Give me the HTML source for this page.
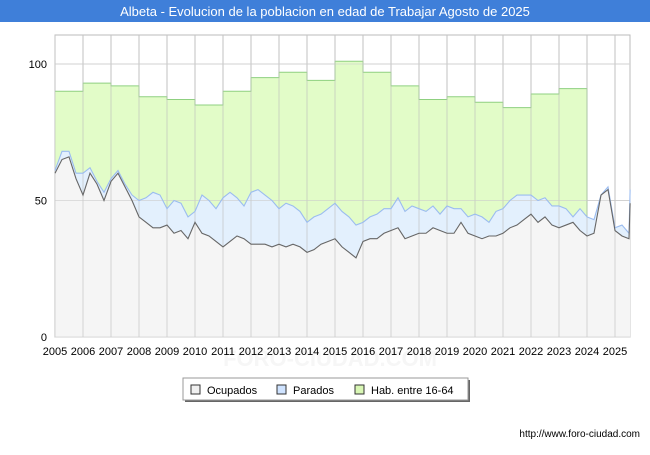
<!DOCTYPE html>
<html><head><meta charset="utf-8"><style>
body{margin:0;width:650px;height:450px;background:#fff;font-family:"Liberation Sans",sans-serif;overflow:hidden}
</style></head><body>
<svg width="650" height="450" xmlns="http://www.w3.org/2000/svg">
<rect x="0" y="0" width="650" height="450" fill="#fff"/>
<rect x="0" y="0" width="650" height="22" fill="#3f7fd9"/>
<text x="325" y="16" text-anchor="middle" fill="#fff" font-size="13">Albeta - Evolucion de la poblacion en edad de Trabajar Agosto de 2025</text>
<text x="330" y="366" text-anchor="middle" fill="#f6f6f6" font-size="22" font-weight="bold">FORO-CIUDAD.COM</text>
<rect x="55" y="35" width="575" height="302" fill="#fff" stroke="#bbb"/>
<g id="grid"></g>
<g id="series"></g>
<g id="axes"></g>
<g>
<rect x="185" y="380" width="285" height="22" fill="#666"/>
<rect x="183" y="378" width="285" height="22" fill="#fff" stroke="#999"/>
<rect x="191" y="385" width="9" height="9" fill="#f0f0f0" stroke="#333"/>
<text x="207" y="394" font-size="11" fill="#000">Ocupados</text>
<rect x="277" y="385" width="9" height="9" fill="#cfe3ff" stroke="#333"/>
<text x="293" y="394" font-size="11" fill="#000">Parados</text>
<rect x="355" y="385" width="9" height="9" fill="#d9f7b5" stroke="#333"/>
<text x="371" y="394" font-size="11" fill="#000">Hab. entre 16-64</text>
</g>
<text x="640" y="437" text-anchor="end" font-size="10" fill="#000">http://www.foro-ciudad.com</text>
</svg>
<script>
const years=[2005,2006,2007,2008,2009,2010,2011,2012,2013,2014,2015,2016,2017,2018,2019,2020,2021,2022,2023,2024,2025];
const habYears=[2005,2006,2007,2008,2009,2010,2011,2012,2013,2014,2015,2016,2017,2018,2019,2020,2021,2022,2023];
const hab=[90,93,92,88,87,85,90,95,97,94,101,97,92,87,88,86,84,89,91];
const ocupados=[60,65,66,58, 52,60,56,50, 57,60,55,50, 44,42,40,40, 41,38,39,36, 42,38,37,35, 33,35,37,36, 34,34,34,33, 34,33,34,33, 31,32,34,35, 36,33,31,29, 35,36,36,38, 39,40,36,37, 38,38,40,39, 38,38,42,38, 37,36,37,37, 38,40,41,43, 45,42,44,41, 40,41,42,39, 37,38,52,54, 39,37,36,49];
const total=[61,68,68,60, 60,62,57,53, 58,61,56,52, 50,51,53,52, 47,50,49,44, 46,52,50,47, 51,53,51,48, 53,54,52,50, 47,49,48,46, 42,44,45,47, 49,46,44,41, 42,44,45,47, 47,51,46,48, 47,46,48,45, 48,47,47,44, 45,44,42,46, 47,50,52,52, 52,50,51,48, 48,47,44,47, 44,43,52,55, 40,41,38,54];
const yTicks=[0,50,100];
const NS="http://www.w3.org/2000/svg";
const X=t=>55+(t-2005)*28;
const Y=v=>337-v*2.73;
const tOf=i=>i<ocupados.length-1?2005+i/4:2025.54;
function mk(tag,attrs,parent){const e=document.createElementNS(NS,tag);for(const k in attrs)e.setAttribute(k,attrs[k]);document.getElementById(parent).appendChild(e);return e;}
yTicks.forEach(v=>{const l=mk('line',{x1:55,x2:630,y1:Y(v),y2:Y(v),stroke:'#ddd'},'grid');


const t=mk('text',{x:47,y:Y(v)+4,'text-anchor':'end','font-size':11,fill:'#000'},'axes');t.textContent=v;

});
years.forEach(yr=>{const l=mk('line',{x1:X(yr),x2:X(yr),y1:35,y2:337,stroke:'#ccc'},'grid');


const t=mk('text',{x:X(yr),y:355,'text-anchor':'middle','font-size':11,fill:'#000'},'axes');t.textContent=yr;

});
let hp=[];habYears.forEach((yr,i)=>{hp.push([X(yr),Y(hab[i])]);hp.push([X(yr+1),Y(hab[i])]);});
const endIdx=(2024-2005)*4;
hp.push([X(2024),Y(total[endIdx])]);
let habPoly=hp.slice();
for(let i=endIdx;i>=0;i--)habPoly.push([X(tOf(i)),Y(total[i])]);
const ha=mk('polygon',{points:habPoly.map(p=>p.join(',')).join(' '),fill:'#e2fcc8',stroke:'none'},'series');


const hl=mk('polyline',{points:hp.map(p=>p.join(',')).join(' '),fill:'none',stroke:'#8fd080','stroke-width':1},'series');


let tp=total.map((v,i)=>[X(tOf(i)),Y(v)]);
let op=ocupados.map((v,i)=>[X(tOf(i)),Y(v)]);
const pa=mk('polygon',{points:tp.concat(op.slice().reverse()).map(p=>p.join(',')).join(' '),fill:'#e3f0fd'},'series');


const oa=mk('polygon',{points:op.concat([[X(tOf(ocupados.length-1)),337],[55,337]]).map(p=>p.join(',')).join(' '),fill:'#f5f5f5'},'series');


years.forEach(yr=>{const l=mk('line',{x1:X(yr),x2:X(yr),y1:35,y2:337,stroke:'#bbb','stroke-opacity':0.6},'series');

});
yTicks.forEach(v=>{const l=mk('line',{x1:55,x2:630,y1:Y(v),y2:Y(v),stroke:'#ccc','stroke-opacity':0.6},'series');

});
const tl=mk('polyline',{points:tp.map(p=>p.join(',')).join(' '),fill:'none',stroke:'#9bbcf0','stroke-width':1.1},'series');


const ol=mk('polyline',{points:op.map(p=>p.join(',')).join(' '),fill:'none',stroke:'#666','stroke-width':1.1},'series');


</script>
</body></html>
